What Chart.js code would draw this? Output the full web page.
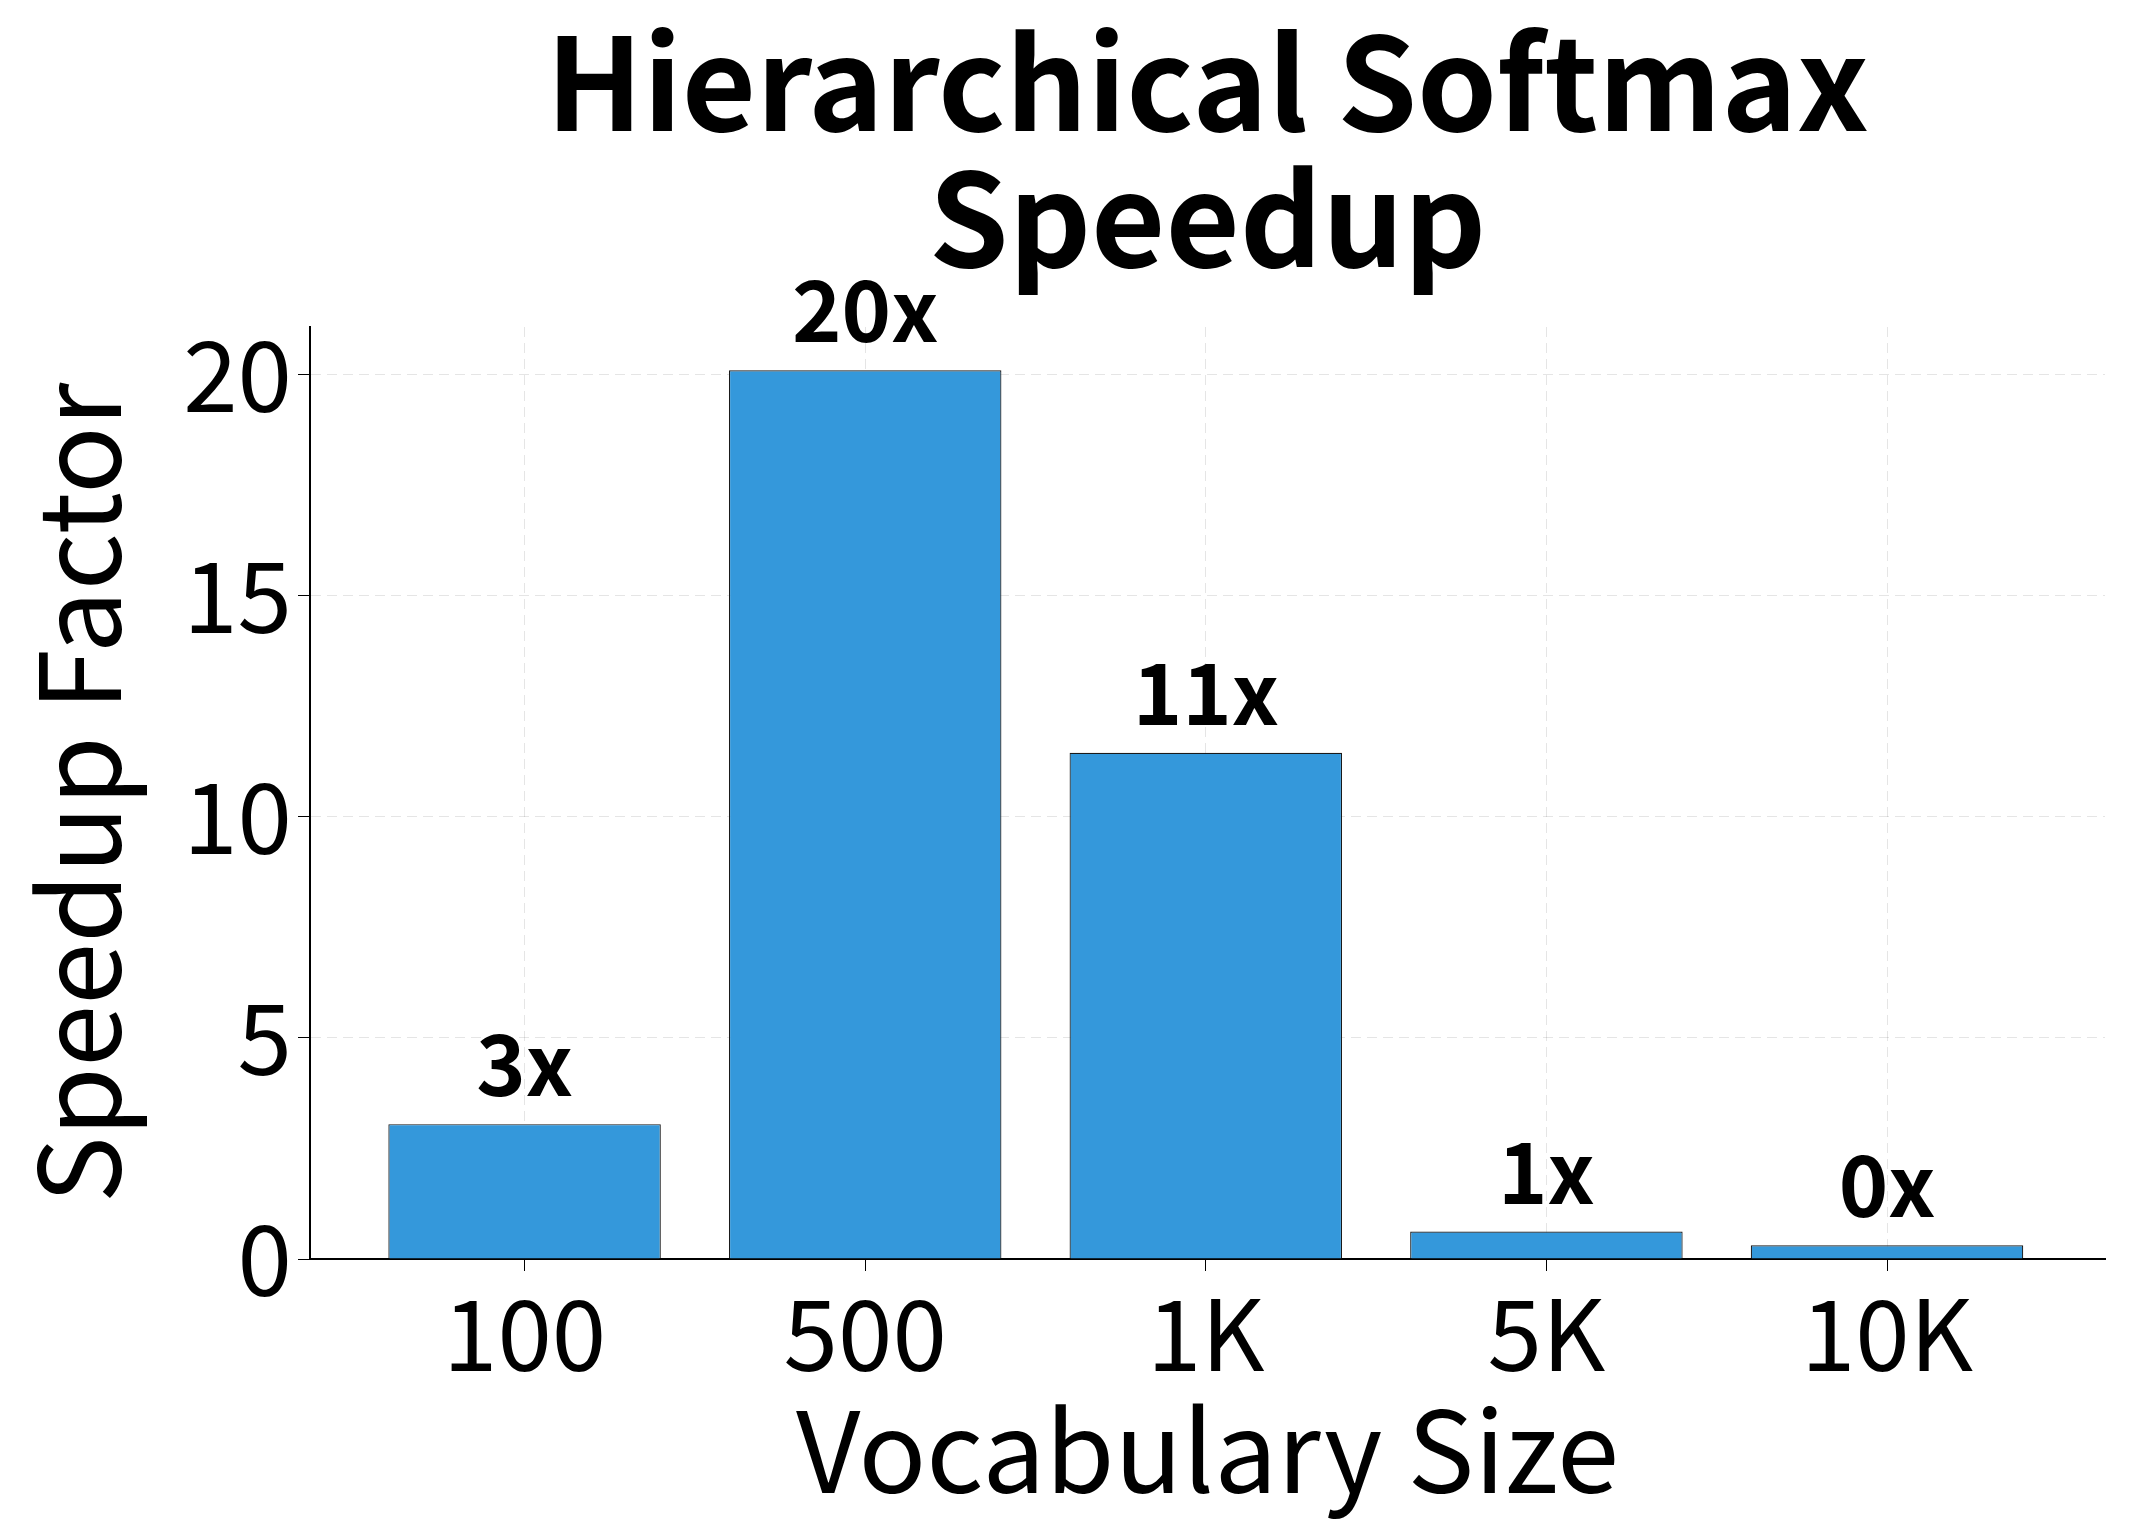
<!DOCTYPE html>
<html>
<head>
<meta charset="utf-8">
<script src="https://cdn.jsdelivr.net/npm/chart.js@4"></script>
<style>
  body { margin: 0; background: #fff; }
  #wrap { width: 2134px; height: 1534px; }
</style>
</head>
<body>
<div id="wrap"><canvas id="grafico"></canvas></div>
<script>
const vocabLabels = ['100', '500', '1K', '5K', '10K'];
const speedups = [3.05, 20.1, 11.45, 0.62, 0.31];
const yTicks = [0, 5, 10, 15, 20];

const FONT = "'Noto Sans CJK JP', 'Noto Sans', sans-serif";

// titulos y etiquetas de las barras
const decoracion = {
    id: 'decoracion',
    afterDatasetsDraw(chart) {
        const ctx = chart.ctx;
        const area = chart.chartArea;
        const meta = chart.getDatasetMeta(0);
        ctx.save();
        ctx.fillStyle = '#000';
        ctx.textAlign = 'center';
        ctx.textBaseline = 'bottom';
        ctx.font = 'bold 84px ' + FONT;
        meta.data.forEach((bar, i) => {
            ctx.fillText(Math.round(speedups[i]) + 'x', bar.x, bar.y - 18);
        });
        const cx = (area.left + area.right) / 2;
        ctx.textBaseline = 'middle';
        ctx.font = 'bold 128px ' + FONT;
        ctx.fillText('Hierarchical Softmax', cx, 82);
        ctx.fillText('Speedup', cx, 218);
        ctx.font = '112px ' + FONT;
        ctx.fillText('Vocabulary Size', cx, 1450);
        ctx.translate(78, (area.top + area.bottom) / 2);
        ctx.rotate(-Math.PI / 2);
        ctx.fillText('Speedup Factor', 0, 0);
        ctx.restore();
    }
};

new Chart(document.getElementById('grafico').getContext('2d'), {
    type: 'bar',
    data: {
        datasets: [{
            data: speedups.map((v, i) => ({ x: i, y: v })),
            backgroundColor: '#3498db',
            borderColor: '#1a1a1a',
            borderWidth: 1.2,
            barPercentage: 0.8,
            categoryPercentage: 1
        }]
    },
    options: {
        responsive: true,
        maintainAspectRatio: false,
        animation: false,
        layout: { padding: { top: 327, right: 29, left: 0, bottom: 0 } },
        plugins: { legend: { display: false }, tooltip: { enabled: false } },
        scales: {
            x: {
                type: 'linear',
                offset: false,
                min: -0.63,
                max: 4.64,
                afterBuildTicks: axis => { axis.ticks = vocabLabels.map((l, i) => ({ value: i })); },
                afterFit: axis => { axis.height = 275; },
                ticks: {
                    callback: v => vocabLabels[v],
                    color: '#000',
                    font: { family: FONT, size: 98 },
                    padding: 4
                },
                grid: {
                    offset: false,
                    color: 'rgba(0,0,0,0.1)',
                    tickColor: '#000',
                    tickLength: 12
                },
                border: { color: '#000', width: 2, dash: [10, 6] }
            },
            y: {
                min: 0,
                max: 21.08,
                afterBuildTicks: axis => { axis.ticks = yTicks.map(v => ({ value: v })); },
                afterFit: axis => { axis.width = 310; },
                ticks: {
                    color: '#000',
                    font: { family: FONT, size: 98 },
                    padding: 6
                },
                grid: {
                    color: 'rgba(0,0,0,0.1)',
                    tickColor: '#000',
                    tickLength: 12
                },
                border: { color: '#000', width: 2, dash: [10, 6] }
            }
        }
    },
    plugins: [decoracion]
});
</script>
</body>
</html>
